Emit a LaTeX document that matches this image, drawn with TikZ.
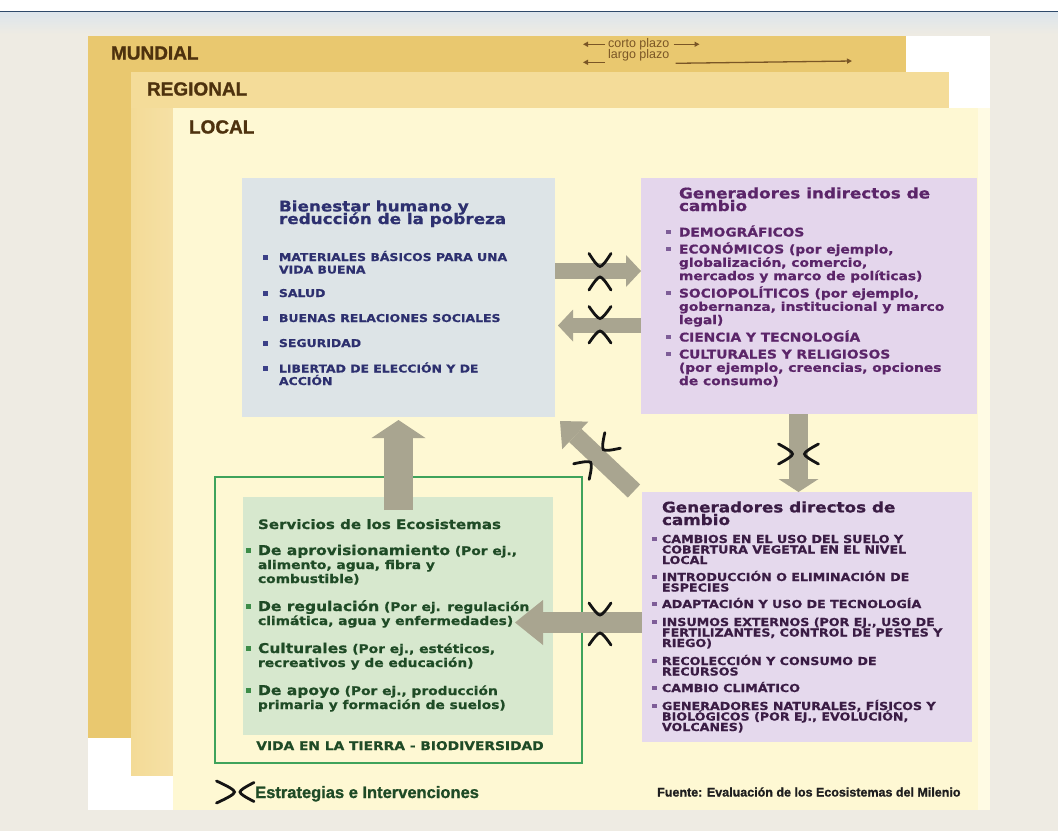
\documentclass[tikz,border=0pt]{standalone}
\usepackage{fontspec}
\setmainfont{Liberation Sans}
\newfontfamily\wf{DejaVu Sans}[FakeStretch=1.15,BoldFeatures={FakeBold=0.8}]
\newfontfamily\lbf{Liberation Sans}
\newfontfamily\lbk{Liberation Sans}[BoldFeatures={FakeBold=1.2}]
\usetikzlibrary{arrows.meta,calc}
\newcommand\fs[2]{\fontsize{#1}{#2}\selectfont\lineskiplimit=-50pt\relax}
\definecolor{bgc}{HTML}{EEEBE3}
\definecolor{topline}{HTML}{2E4A6B}
\definecolor{topfade}{HTML}{DCE5EC}
\definecolor{mund}{HTML}{E9C86F}
\definecolor{reg}{HTML}{F4DC99}
\definecolor{loc}{HTML}{FEF8D3}
\definecolor{locedge}{HTML}{FFFBE4}
\definecolor{bienc}{HTML}{DDE4E7}
\definecolor{indc}{HTML}{E4D6EC}
\definecolor{dirc}{HTML}{E5D9ED}
\definecolor{ginc}{HTML}{D7E8CE}
\definecolor{gframe}{HTML}{3FA35B}
\definecolor{navy}{HTML}{2D306F}
\definecolor{purp}{HTML}{5B2569}
\definecolor{dpurp}{HTML}{3A1C44}
\definecolor{gtext}{HTML}{1F4B26}
\definecolor{gbul}{HTML}{3C8C47}
\definecolor{pbul}{HTML}{7E5D98}
\definecolor{nbul}{HTML}{3B4088}
\definecolor{arrc}{HTML}{A9A590}
\definecolor{brown}{HTML}{4E320E}
\definecolor{arrbrown}{HTML}{7A5626}
\begin{document}
\begin{tikzpicture}[x=1pt,y=-1pt,
  box/.style={draw=none,inner sep=0pt,outer sep=0pt,anchor=north west},
  txt/.style={anchor=base west,align=left,inner sep=0pt,outer sep=0pt},
  lab/.style={anchor=base west,inner sep=0pt,outer sep=0pt,text=brown,font=\lbk\bfseries\fs{19}{20}},
  ttl/.style={txt,font=\wf\bfseries\fs{14.6}{12.6}},
  fatarrow/.style={draw=arrc,line width=#1},
  chevline/.style={draw=black!92,line width=2.8pt,line cap=round},
  chev/.pic={\draw[chevline] (-0.5,-1) .. controls (0.1,-0.55) and (0.5,-0.2) .. (0.5,0) .. controls (0.5,0.2) and (0.1,0.55) .. (-0.5,1);},
  smallarrow/.style={draw=arrbrown,line width=1.3pt,-{Triangle[length=5pt,width=5pt]}}
]
\useasboundingbox (0,0) rectangle (1058,831);
% background
\fill[bgc] (0,0) rectangle (1058,831);
\fill[white] (0,0) rectangle (1058,11);
\shade[top color=topfade,bottom color=bgc] (0,12) rectangle (1058,34);
\draw[topline,line width=1.5pt] (0,11.5) -- (1058,11.5);
% scale panels
\fill[white] (88,36) rectangle (990,810);
\fill[mund] (88,36) rectangle (906,738);
\fill[reg] (131,72) rectangle (949,775);
\shade[left color=reg!94!mund,right color=reg!88!white] (131,108) rectangle (173,775);
\fill[loc] (173,108) rectangle (990,810);
\fill[locedge] (978,108) rectangle (990,810);
\node[lab] (mundial) at (111,59.5) {MUNDIAL};
\node[lab] (regional) at (147,95.5) {REGIONAL};
\node[lab] (local) at (189,133.5) {LOCAL};
% time scale
\node[anchor=base west,inner sep=0pt,text=arrbrown,font=\lbf\fs{12.5}{14}] (corto) at (608,47.5) {corto plazo};
\node[anchor=base west,inner sep=0pt,text=arrbrown,font=\lbf\fs{12.5}{14}] (largo) at (608,58.5) {largo plazo};
\draw[smallarrow] ($(corto.west)+(-3,0)$) -- ++(-22,0);
\draw[smallarrow] ($(corto.east)+(4,0)$) -- ++(26,0);
\draw[smallarrow] ($(largo.south west)+(-3,1)$) -- ++(-22,0);
\draw[smallarrow] ($(largo.south east)+(6,2)$) -- (852,61);
% boxes
\node[box,fill=bienc,minimum width=313pt,minimum height=239pt] (bien) at (242,178) {};
\node[box,fill=indc,minimum width=336pt,minimum height=236pt] (ind) at (641,178) {};
\node[box,fill=dirc,minimum width=330pt,minimum height=250pt] (dir) at (642,492) {};
\node[box,draw=gframe,line width=2.5pt,minimum width=367pt,minimum height=286pt] (gfr) at (215,477) {};
\node[box,fill=ginc,minimum width=310pt,minimum height=238pt] (gin) at (243,497) {};
% helper coordinates for arrow rows/columns
\coordinate (r1) at (0,271);
\coordinate (r2) at (0,325.5);
\coordinate (r5) at (0,622.5);
\coordinate (c4) at (798.5,0);
\coordinate (c6) at (398.5,0);
% arrows
\draw[fatarrow=16pt,-{Triangle[length=15pt,width=32pt,line width=0pt]}] (bien.east |- r1) -- (ind.west |- r1);
\draw[fatarrow=15pt,-{Triangle[length=15pt,width=32pt,line width=0pt]}] (ind.west |- r2) -- ($(bien.east |- r2)+(3,0)$);
\draw[fatarrow=18pt,-{Triangle[length=21pt,width=38pt,line width=0pt]}] ($(dir.north west)+(-8,-1)$) -- ($(bien.south east)+(5,4)$);
\draw[fatarrow=19pt,-{Triangle[length=13pt,width=40pt,line width=0pt]}] (ind.south -| c4) -- (dir.north -| c4);
\draw[fatarrow=21pt,-{Triangle[length=28pt,width=45pt,line width=0pt]}] (dir.west |- r5) -- ($(gin.east |- r5)+(-38,0)$);
\draw[fatarrow=29pt,-{Triangle[length=18pt,width=54pt,line width=0pt]}] ($(gin.north -| c6)+(0,13)$) -- ($(bien.south -| c6)+(0,3)$);
% intervention marks
\pic[rotate=-90,xscale=13,yscale=11] at (600,260) {chev};
\pic[rotate=90,xscale=13,yscale=11] at (600,283.5) {chev};
\pic[rotate=-90,xscale=12,yscale=11] at (600,312.5) {chev};
\pic[rotate=90,xscale=12,yscale=11] at (600,337) {chev};
\pic[rotate=225,xscale=13,yscale=11] at (608,445) {chev};
\pic[rotate=45,xscale=13,yscale=11] at (586,467) {chev};
\pic[rotate=0,xscale=14,yscale=10] at (785.5,454) {chev};
\pic[rotate=180,xscale=14,yscale=10] at (811.5,454) {chev};
\pic[rotate=-90,xscale=12,yscale=11] at (600,609) {chev};
\pic[rotate=90,xscale=12,yscale=11] at (600,639) {chev};
% Bienestar text
\node[ttl,text=navy] (bt) at (279,224) {Bienestar humano y\\reducción de la pobreza};
\foreach \yy in {257,293,318,343,368} \fill[nbul] (263,\yy-2.5) rectangle (268,\yy+2.5);
\begin{scope}[every node/.style={txt,text=navy,font=\wf\bfseries\fs{10.8}{12.5}}]
\node (b1) at (279,273.5) {MATERIALES BÁSICOS PARA UNA\\VIDA BUENA};
\node (b2) at (279,297) {SALUD};
\node (b3) at (279,322) {BUENAS RELACIONES SOCIALES};
\node (b4) at (279,347) {SEGURIDAD};
\node (b5) at (279,385) {LIBERTAD DE ELECCIÓN Y DE\\ACCIÓN};
\end{scope}
% Indirect drivers text
\node[ttl,text=purp] (it) at (679,211) {Generadores indirectos de\\cambio};
\foreach \yy in {232,249,293,337,354} \fill[pbul] (665.5,\yy-2.3) rectangle (670.5,\yy+2.3);
\begin{scope}[every node/.style={txt,text=purp,font=\wf\bfseries\fs{12}{13.3}}]
\node (i1) at (679,236.5) {DEMOGRÁFICOS};
\node (i2) at (679,280.1) {ECONÓMICOS (por ejemplo,\\globalización, comercio,\\mercados y marco de políticas)};
\node (i3) at (679,324.1) {SOCIOPOLÍTICOS (por ejemplo,\\gobernanza, institucional y marco\\legal)};
\node (i4) at (679,341.5) {CIENCIA Y TECNOLOGÍA};
\node (i5) at (679,385.1) {CULTURALES Y RELIGIOSOS\\(por ejemplo, creencias, opciones\\de consumo)};
\end{scope}
% Direct drivers text
\node[ttl,text=dpurp] (dt) at (662,525) {Generadores directos de\\cambio};
\foreach \yy in {539,577,604,622,661,688,706} \fill[pbul] (651.5,\yy-2.3) rectangle (656.5,\yy+2.3);
\begin{scope}[every node/.style={txt,text=dpurp,font=\wf\bfseries\fs{11}{10.5}}]
\node (d1) at (662,564) {CAMBIOS EN EL USO DEL SUELO Y\\COBERTURA VEGETAL EN EL NIVEL\\LOCAL};
\node (d2) at (662,591.5) {INTRODUCCIÓN O ELIMINACIÓN DE\\ESPECIES};
\node (d3) at (662,608) {ADAPTACIÓN Y USO DE TECNOLOGÍA};
\node (d4) at (662,647) {INSUMOS EXTERNOS (POR EJ., USO DE\\FERTILIZANTES, CONTROL DE PESTES Y\\RIEGO)};
\node (d5) at (662,675.5) {RECOLECCIÓN Y CONSUMO DE\\RECURSOS};
\node (d6) at (662,692) {CAMBIO CLIMÁTICO};
\node (d7) at (662,731) {GENERADORES NATURALES, FÍSICOS Y\\BIOLÓGICOS (POR EJ., EVOLUCIÓN,\\VOLCANES)};
\end{scope}
% Ecosystem services text
\node[txt,text=gtext,font=\wf\bfseries\fs{13.1}{14}] (gt) at (258,529) {Servicios de los Ecosistemas};
\foreach \yy in {550.5,606.5,648.5,690.5} \fill[gbul] (246,\yy-2.2) rectangle (250.5,\yy+2.2);
\begin{scope}[every node/.style={txt,text=gtext,font=\wf\bfseries\fs{12}{14}}]
\node (g1) at (258,583) {{\fs{13.5}{14}De aprovisionamiento} (Por ej.,\\alimento, agua, fibra y\\combustible)};
\node (g2) at (258,625) {{\fs{13.5}{14}De regulación} (Por ej. regulación\\climática, agua y enfermedades)};
\node (g3) at (258,667) {{\fs{13.5}{14}Culturales} (Por ej., estéticos,\\recreativos y de educación)};
\node (g4) at (258,709) {{\fs{13.5}{14}De apoyo} (Por ej., producción\\primaria y formación de suelos)};
\end{scope}
\node[anchor=base,inner sep=0pt,text=gtext,font=\wf\bfseries\fs{12}{14}] (gv) at (400,750) {VIDA EN LA TIERRA - BIODIVERSIDAD};
% legend and source
\pic[rotate=0,xscale=18,yscale=11] at (225.5,792) {chev};
\pic[rotate=180,xscale=14,yscale=9.5] at (247,792) {chev};
\node[anchor=base west,inner sep=0pt,text=gtext,font=\lbk\bfseries\fs{16.5}{18}] (leg) at (255,798) {Estrategias e Intervenciones};
\node[anchor=base west,inner sep=0pt,text=black!88,font=\lbk\bfseries\fs{12.5}{14}] (src) at (657,796.5) {Fuente: Evaluación de los Ecosistemas del Milenio};
\end{tikzpicture}
\end{document}
